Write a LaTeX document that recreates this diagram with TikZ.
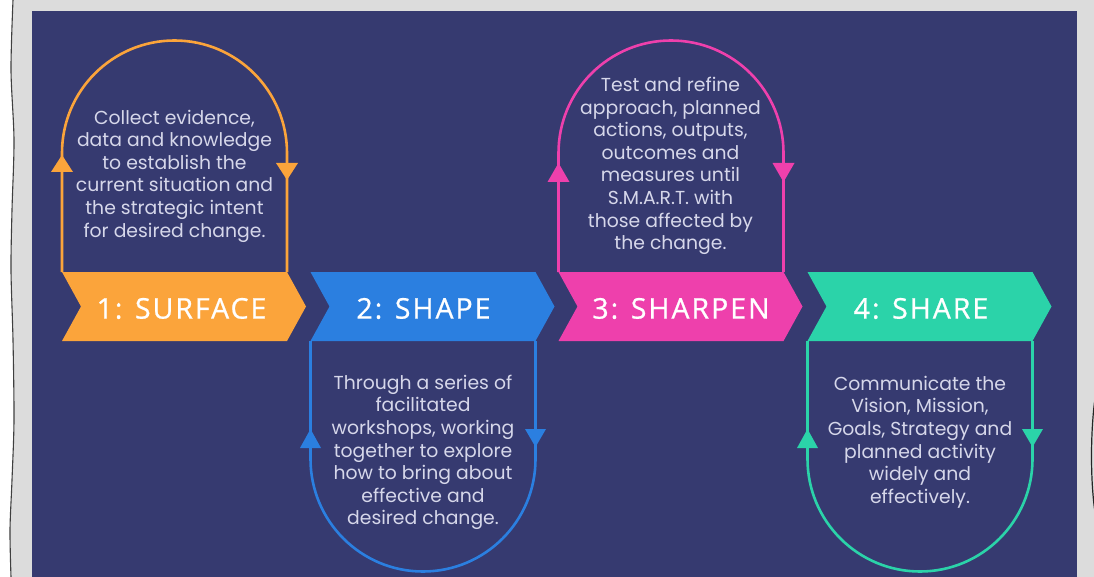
\documentclass[tikz,border=0pt]{standalone}
\usepackage{fontspec}
\setmainfont{Poppins}
\newfontfamily\labelfont[LetterSpace=7,FakeBold=0.8]{Open Sans}
\usetikzlibrary{calc}
\definecolor{bgnavy}{HTML}{363A70}
\definecolor{framegray}{HTML}{DCDCDC}
\definecolor{bodytext}{HTML}{D6D7EA}
\definecolor{csurface}{HTML}{FBA43B}
\definecolor{cshape}{HTML}{2B7FE0}
\definecolor{csharpen}{HTML}{EE40AC}
\definecolor{cshare}{HTML}{2BD3A9}
\begin{document}
\begin{tikzpicture}[x=1pt,y=-1pt,
  loopline/.style={draw=#1, line width=2.6pt},
  arrowhead/.style={fill=#1},
  steplabel/.style={text=white, font=\labelfont\fontsize{28.5}{30}\selectfont, inner sep=0pt},
  stepnote/.style={text=bodytext, align=center, font=\fontsize{18.8}{22.6}\selectfont, inner sep=0pt}
]
\useasboundingbox (0,0) rectangle (1094,577);
% paper, frame and panel
\fill[white] (0,0) rectangle (1094,577);
\fill[framegray] plot[smooth] coordinates {(13,0) (11,70) (14,140) (12,210) (11,270) (13,340) (14,420) (12,480) (10,530) (11,577)}
  -- (1094,577) -- (1094,0) -- cycle;
\draw[black!75, line width=1.1pt] plot[smooth] coordinates {(13,0) (11,70) (14,140) (12,210) (11,270) (13,340) (14,420) (12,480) (10,530) (11,577)};
\draw[black!85, line width=1.2pt] (1094.5,402) .. controls (1090.5,435) and (1090.5,478) .. (1094.5,509);
\fill[bgnavy] (32,11) rectangle (1077,577);

% corner points of the four chevrons
\foreach \i/\L in {1/62, 2/310.5, 3/558.5, 4/807.5}{
  \coordinate (s\i-nw) at (\L,272);
  \coordinate (s\i-ne) at ({\L+225},272);
  \coordinate (s\i-sw) at (\L,341);
  \coordinate (s\i-se) at ({\L+225},341);
}

% feedback loops
\draw[loopline=csurface] (s1-nw) -- ++(0,-119) arc[start angle=180, end angle=0, radius=112.5pt] -- (s1-ne);
\draw[loopline=cshape]   (s2-sw) -- ++(0,118)  arc[start angle=180, end angle=360, radius=112.5pt] -- (s2-se);
\draw[loopline=csharpen] (s3-nw) -- ++(0,-119) arc[start angle=180, end angle=0, radius=112.5pt] -- (s3-ne);
\draw[loopline=cshare]   (s4-sw) -- ++(0,118)  arc[start angle=180, end angle=360, radius=112.5pt] -- (s4-se);

% arrowheads on the loops
\fill[arrowhead=csurface] ($(s1-nw)+(-11,-100)$) -- ++(22,0) -- ++(-11,-17) -- cycle;
\fill[arrowhead=csurface] ($(s1-ne)+(-11,-109)$) -- ++(22,0) -- ++(-11,17) -- cycle;
\fill[arrowhead=csharpen] ($(s3-nw)+(-11,-90)$) -- ++(22,0) -- ++(-11,-19) -- cycle;
\fill[arrowhead=csharpen] ($(s3-ne)+(-11,-109)$) -- ++(22,0) -- ++(-11,19) -- cycle;
\fill[arrowhead=cshape] ($(s2-sw)+(-10.5,107)$) -- ++(21,0) -- ++(-10.5,-19) -- cycle;
\fill[arrowhead=cshape] ($(s2-se)+(-10.5,88)$) -- ++(21,0) -- ++(-10.5,18) -- cycle;
\fill[arrowhead=cshare] ($(s4-sw)+(-10.5,107)$) -- ++(21,0) -- ++(-10.5,-19) -- cycle;
\fill[arrowhead=cshare] ($(s4-se)+(-10.5,88)$) -- ++(21,0) -- ++(-10.5,18) -- cycle;

% chevrons
\foreach \i/\col in {1/csurface, 2/cshape, 3/csharpen, 4/cshare}{
  \fill[\col] (s\i-nw) -- (s\i-ne) -- ($(s\i-ne)!0.5!(s\i-se)+(19,0)$) -- (s\i-se) -- (s\i-sw)
    -- ($(s\i-nw)!0.5!(s\i-sw)+(19,0)$) -- cycle;
}

% step labels
\node[steplabel] (lab1) at (181.5,308.5) {1: SURFACE};
\node[steplabel] (lab2) at (423.5,308.5) {2: SHAPE};
\node[steplabel] (lab3) at (681,308.5) {3: SHARPEN};
\node[steplabel] (lab4) at (921,308.5) {4: SHARE};

% descriptions inside the loops
\node[stepnote] (note1) at (174.5,176) {Collect evidence,\\data and knowledge\\to establish the\\current situation and\\the strategic intent\\for desired change.};
\node[stepnote] (note2) at (423,452.5) {Through a series of\\facilitated\\workshops, working\\together to explore\\how to bring about\\effective and\\desired change.};
\node[stepnote] (note3) at (670.5,166) {Test and refine\\approach, planned\\actions, outputs,\\outcomes and\\measures until\\S.M.A.R.T. with\\those affected by\\the change.};
\node[stepnote] (note4) at (920,442) {Communicate the\\Vision, Mission,\\Goals, Strategy and\\planned activity\\widely and\\effectively.};
\end{tikzpicture}
\end{document}
